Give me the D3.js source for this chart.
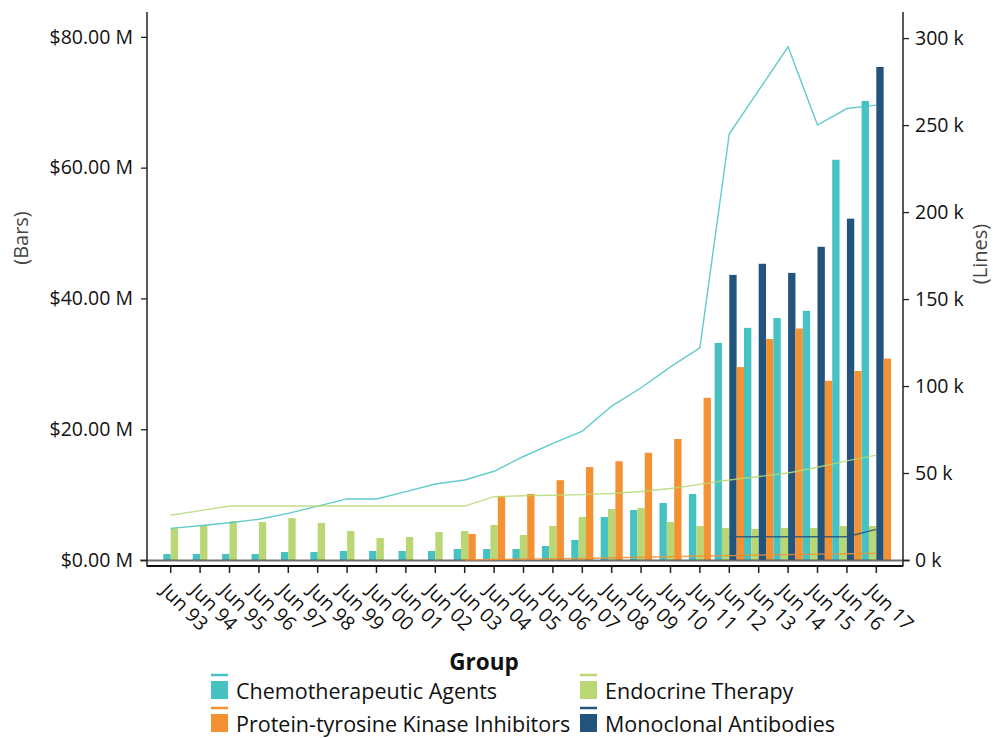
<!DOCTYPE html>
<html>
<head>
<meta charset="utf-8">
<script src="https://cdn.jsdelivr.net/npm/d3@7"></script>
<style>
  html, body { margin: 0; padding: 0; background: #ffffff; }
  svg { display: block; font-family: "Open Sans", "Noto Sans", sans-serif; }
</style>
</head>
<body>
<svg id="chart" width="993" height="738"></svg>
<script>
// ---------------- data ----------------
const categories = ["Jun 93","Jun 94","Jun 95","Jun 96","Jun 97","Jun 98","Jun 99","Jun 00","Jun 01","Jun 02","Jun 03","Jun 04","Jun 05","Jun 06","Jun 07","Jun 08","Jun 09","Jun 10","Jun 11","Jun 12","Jun 13","Jun 14","Jun 15","Jun 16","Jun 17"];

// bar values ($ millions)
const chemoBars = [0.92,0.92,0.92,0.92,1.22,1.22,1.38,1.38,1.38,1.38,1.68,1.68,1.68,2.14,3.06,6.58,7.65,8.72,10.1,33.2,35.5,37.0,38.1,61.2,70.2];
const endoBars  = [4.85,5.25,5.9,5.8,6.4,5.66,4.43,3.36,3.52,4.28,4.43,5.35,3.82,5.2,6.58,7.8,7.95,5.81,5.2,4.9,4.74,4.9,4.9,5.2,5.2];
const ptkBars   = [null,null,null,null,null,null,null,null,null,null,3.98,9.79,10.1,12.2,14.2,15.1,16.4,18.5,24.8,29.5,33.8,35.4,27.4,28.9,30.8];
const monoBars  = [null,null,null,null,null,null,null,null,null,null,null,null,null,null,null,null,null,null,null,43.6,45.3,43.9,47.9,52.2,75.4];

// line values (thousands)
const chemoLine = [18.2,19.7,21.4,23.4,26.8,31.0,35.1,35.1,39.3,43.7,46.0,51.0,59.5,67.0,74.1,88.5,99.0,111.0,122.0,245.0,270.0,295.0,250.0,259.5,261.5];
const endoLine  = [25.7,28.4,31.0,31.0,31.0,31.0,31.0,31.0,31.0,31.0,31.0,36.4,36.9,37.2,37.6,38.2,39.4,41.1,43.5,46.0,48.0,50.0,53.3,57.0,60.3];
const ptkLine   = [null,null,null,null,null,null,null,null,null,null,0.1,0.3,0.5,0.7,0.9,1.3,1.6,1.9,2.3,2.5,2.8,3.1,3.4,3.6,3.8];
const monoLine  = [null,null,null,null,null,null,null,null,null,null,null,null,null,null,null,null,null,null,null,13.4,13.4,13.4,13.4,13.4,17.6];

const leftTicks  = [0,20,40,60,80];
const rightTicks = [0,50,100,150,200,250,300];

const seriesNames  = ["Chemotherapeutic Agents","Endocrine Therapy","Monoclonal Antibodies","Protein-tyrosine Kinase Inhibitors"];
const seriesColors = ["#46C2C2","#B9D774","#23547E","#F39133"];

// ---------------- layout ----------------
const svg = d3.select("#chart");
const axisLeftX = 147, axisRightX = 903;
const plotTop = 12, plotBottom = 560, xAxisY = 566;
const tickFont = 19.5;

const x = d3.scaleBand().domain(categories).range([156, 891]).padding(0);
const yL = d3.scaleLinear().domain([0, 83.8]).range([plotBottom, plotTop]);
const yR = d3.scaleLinear().domain([0, 315]).range([plotBottom, plotTop]);

const barSeries  = [chemoBars, endoBars, monoBars, ptkBars];
const lineSeries = [chemoLine, endoLine, monoLine, ptkLine];

// ---------------- bars ----------------
const bw = x.step() / 4;
const barData = [];
categories.forEach((c, i) => {
  const present = [];
  barSeries.forEach((s, k) => { if (s[i] != null) present.push({k, v: s[i]}); });
  const center = x(c) + x.bandwidth() / 2;
  const start = center - present.length * bw / 2;
  present.forEach((p, j) => barData.push({x: start + j * bw, v: p.v, k: p.k}));
});

svg.append("g").selectAll("rect").data(barData).join("rect")
  .attr("x", d => d.x)
  .attr("width", bw)
  .attr("y", d => yL(d.v))
  .attr("height", d => yL(0) - yL(d.v))
  .attr("fill", d => seriesColors[d.k]);

// zero baseline (gray)
svg.append("line")
  .attr("x1", axisLeftX - 7).attr("x2", axisRightX + 7)
  .attr("y1", yL(0) + 0.5).attr("y2", yL(0) + 0.5)
  .attr("stroke", "#555").attr("stroke-opacity", 0.85).attr("stroke-width", 2);

// ---------------- lines ----------------
lineSeries.forEach((s, k) => {
  const pts = categories.map((c, i) => ({c, v: s[i]}));
  const line = d3.line()
    .defined(d => d.v != null)
    .x(d => x(d.c) + x.bandwidth() / 2)
    .y(d => yR(d.v));
  svg.append("path")
    .datum(pts)
    .attr("d", line)
    .attr("fill", "none")
    .attr("stroke", seriesColors[k])
    .attr("stroke-width", 1.4)
    .attr("stroke-opacity", 0.85);
});

// ---------------- axes ----------------
const gL = svg.append("g").attr("transform", `translate(${axisLeftX},0)`)
  .call(d3.axisLeft(yL).tickValues(leftTicks).tickSize(6).tickSizeOuter(0).tickPadding(8)
    .tickFormat(d => "$" + d.toFixed(2) + " M"));
const gR = svg.append("g").attr("transform", `translate(${axisRightX},0)`)
  .call(d3.axisRight(yR).tickValues(rightTicks).tickSize(6).tickSizeOuter(0).tickPadding(6)
    .tickFormat(d => d + " k"));
[gL, gR].forEach(g => {
  g.select(".domain").remove();
  g.selectAll("text").attr("font-size", tickFont).attr("fill", "#111").attr("font-family", "'Open Sans', sans-serif");
  g.selectAll("line").attr("stroke", "#222").attr("stroke-width", 1.3);
});
// vertical axis lines
[axisLeftX, axisRightX].forEach(ax => {
  svg.append("line").attr("x1", ax).attr("x2", ax).attr("y1", plotTop).attr("y2", xAxisY + 0.5)
    .attr("stroke", "#222").attr("stroke-width", 1.5);
});

const gX = svg.append("g").attr("transform", `translate(0,${xAxisY})`)
  .call(d3.axisBottom(x).tickSize(7).tickSizeOuter(0));
gX.select(".domain").remove();
gX.selectAll("line").attr("stroke", "#222").attr("stroke-width", 1.5);
gX.selectAll("text")
  .attr("font-size", tickFont).attr("fill", "#111").attr("font-family", "'Open Sans', sans-serif")
  .attr("text-anchor", "start")
  .attr("transform", "translate(-6,21) rotate(45)")
  .attr("x", 0).attr("y", 0).attr("dy", "0.35em");
svg.append("line").attr("x1", axisLeftX).attr("x2", axisRightX)
  .attr("y1", xAxisY).attr("y2", xAxisY)
  .attr("stroke", "#111").attr("stroke-width", 2);

// axis titles
svg.append("text").attr("transform", "translate(28,238) rotate(-90)")
  .attr("text-anchor", "middle").attr("font-size", 20).attr("fill", "#444")
  .text("(Bars)");
svg.append("text").attr("transform", "translate(987,254) rotate(-90)")
  .attr("text-anchor", "middle").attr("font-size", 20).attr("fill", "#444")
  .text("(Lines)");

// ---------------- legend ----------------
const legend = svg.append("g");
legend.append("text").attr("x", 484).attr("y", 670).attr("text-anchor", "middle")
  .attr("font-size", 22.5).attr("font-weight", "bold").attr("fill", "#111").text("Group");

const legendOrder = [0, 1, 3, 2]; // row-wise: Chemo, Endocrine, PTK, Mono
const colX = [211, 580];
const rowY = [681, 714];
legendOrder.forEach((k, idx) => {
  const cx = colX[idx % 2], ry = rowY[Math.floor(idx / 2)];
  const g = legend.append("g");
  g.append("line").attr("x1", cx).attr("x2", cx + 17).attr("y1", ry - 6).attr("y2", ry - 6)
    .attr("stroke", seriesColors[k]).attr("stroke-width", 2.5);
  g.append("rect").attr("x", cx).attr("y", ry).attr("width", 17).attr("height", 18)
    .attr("fill", seriesColors[k]);
  g.append("text").attr("x", cx + 25).attr("y", ry + 18)
    .attr("font-size", 21.5).attr("fill", "#111").text(seriesNames[k]);
});
</script>
</body>
</html>
